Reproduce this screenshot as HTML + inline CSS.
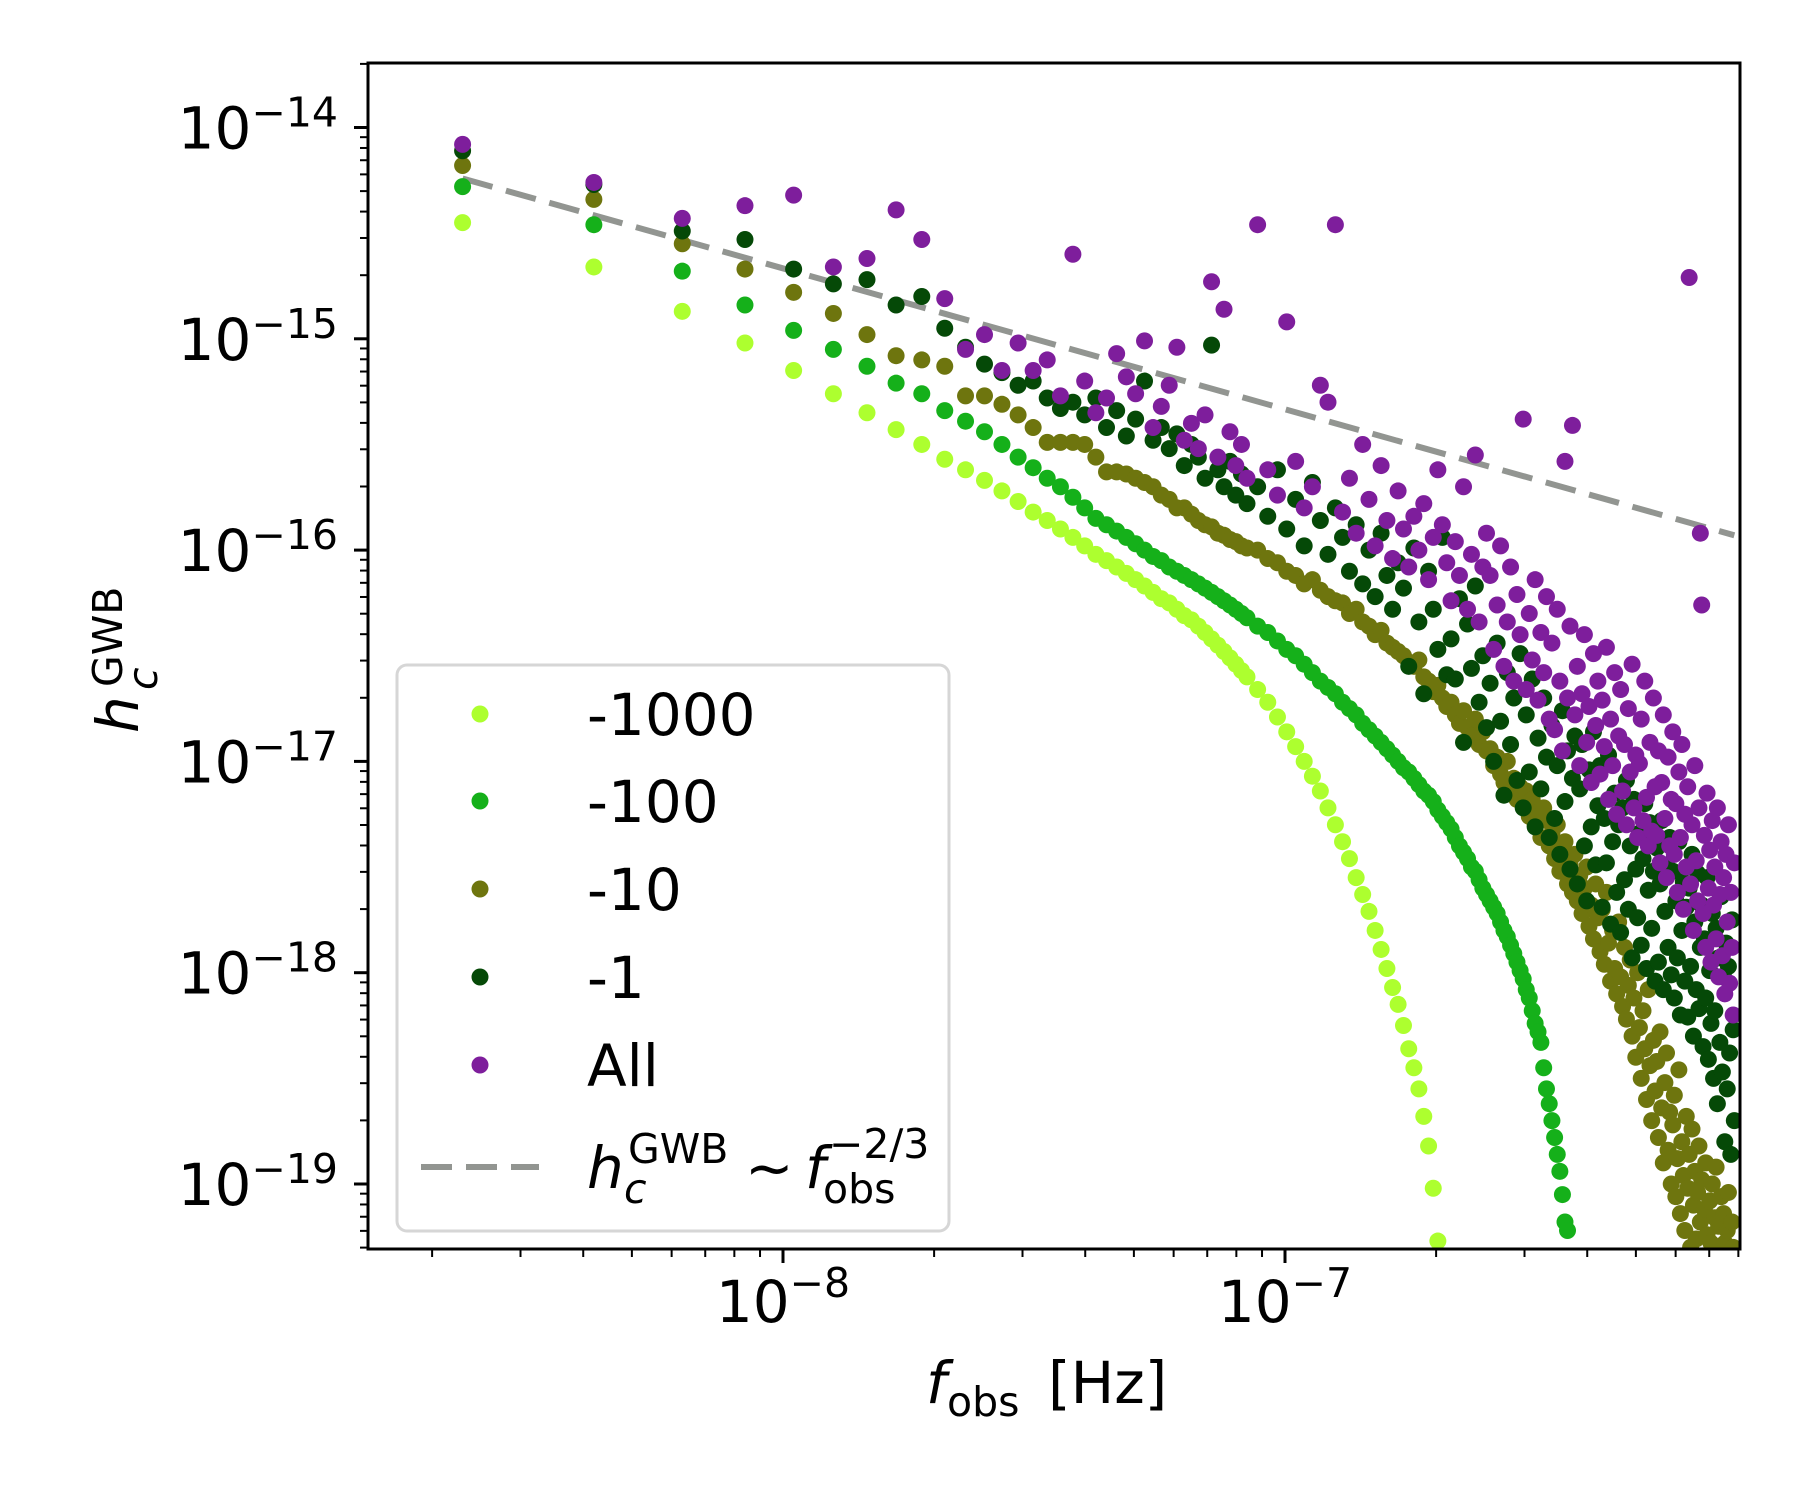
<!DOCTYPE html>
<html><head><meta charset="utf-8"><style>
html,body{margin:0;padding:0;background:#fff}
svg{display:block}
text{font-family:"DejaVu Sans","Liberation Sans",sans-serif;fill:#000}
</style></head><body>
<svg id="chart" width="1800" height="1500" viewBox="0 0 1800 1500" xmlns="http://www.w3.org/2000/svg">
<defs><clipPath id="plotclip"><rect x="368" y="63" width="1372" height="1186"/></clipPath></defs>
<rect x="0" y="0" width="1800" height="1500" fill="#fff"/>
<g id="marks" clip-path="url(#plotclip)"></g>
<g id="axes"></g>
<rect x="368" y="63" width="1372" height="1186" fill="none" stroke="#000" stroke-width="3"/>
<text x="0" y="0" font-size="58" transform="translate(138,0) rotate(-90)"><tspan x="-733" y="0" font-style="italic">h</tspan><tspan x="-690" y="19" font-size="41" font-style="italic">c</tspan><tspan x="-687" y="-16" font-size="41">GWB</tspan></text>
<text font-size="58"><tspan x="926" y="1403" font-style="italic">f</tspan><tspan x="947" y="1416" font-size="41">obs</tspan><tspan x="1048" y="1403">[Hz]</tspan></text>
<g>
<rect x="397" y="665" width="552" height="566" rx="10" fill="#fff" fill-opacity="0.8" stroke="#d6d6d6" stroke-width="3"/>
<g><circle cx="480" cy="714" r="8.5" fill="#adff2f"/><text x="587" y="735" font-size="58">-1000</text></g>
<g><circle cx="480" cy="801" r="8.5" fill="#15b01a"/><text x="587" y="822" font-size="58">-100</text></g>
<g><circle cx="480" cy="889" r="8.5" fill="#6e750e"/><text x="587" y="910" font-size="58">-10</text></g>
<g><circle cx="480" cy="977" r="8.5" fill="#054907"/><text x="587" y="998" font-size="58">-1</text></g>
<g><circle cx="480" cy="1065" r="8.5" fill="#7e1e9c"/><text x="587" y="1086" font-size="58">All</text></g>
<g><line x1="421" y1="1167" x2="539" y2="1167" stroke="#929591" stroke-width="6" stroke-dasharray="31 14"/>
<text font-size="58"><tspan x="587" y="1188" font-style="italic">h</tspan><tspan x="624" y="1203" font-size="41" font-style="italic">c</tspan><tspan x="628" y="1163" font-size="41">GWB</tspan><tspan x="745" y="1188">~</tspan><tspan x="805" y="1188" font-style="italic">f</tspan><tspan x="823" y="1203" font-size="41">obs</tspan><tspan x="829" y="1158" font-size="41">−2/3</tspan></text></g>
</g>
</svg>
<script>
// frequencies in nHz
const freqs = [2.3,4.2,6.3,8.4,10.5,12.6,14.7,16.8,18.9,21,23.1,25.2,27.3,29.4,31.5,33.6,35.7,37.8,39.9,42,44.1,46.2,48.3,50.4,52.5,54.6,56.7,58.8,60.9,63,65.1,67.2,69.3,71.4,73.5,75.6,77.7,79.8,81.9,84,
88.2,92.4,96.6,100.8,105,109.2,113.4,117.6,121.8,126,
130.2,134.4,138.6,142.8,147,151.2,155.4,159.6,163.8,168,
172.2,176.4,180.6,184.8,189,193.2,197.4,201.6,205.8,210,
214.2,218.4,222.6,226.8,231,235.2,239.4,243.6,247.8,252,
256.2,260.4,264.6,268.8,273,277.2,281.4,285.6,289.8,294,
298.2,302.4,306.6,310.8,315,319.2,323.4,327.6,331.8,336,
340.2,344.4,348.6,352.8,357,361.2,365.4,369.6,373.8,378,
382.2,386.4,390.6,394.8,399,403.2,407.4,411.6,415.8,420,
424.2,428.4,432.6,436.8,441,445.2,449.4,453.6,457.8,462,
466.2,470.4,474.6,478.8,483,487.2,491.4,495.6,499.8,504,
508.2,512.4,516.6,520.8,525,529.2,533.4,537.6,541.8,546,
550.2,554.4,558.6,562.8,567,571.2,575.4,579.6,583.8,588,
592.2,596.4,600.6,604.8,609,613.2,617.4,621.6,625.8,630,
634.2,638.4,642.6,646.8,651,655.2,659.4,663.6,667.8,672,
676.2,680.4,684.6,688.8,693,697.2,701.4,705.6,709.8,714,
718.2,722.4,726.6,730.8,735,739.2,743.4,747.6,751.8,756,
760.2,764.4,768.6,772.8,777,781.2,785.4];
// log10(h_c) per frequency
const hc1000 = [-14.45,-14.66,-14.87,-15.02,-15.15,-15.26,-15.35,-15.43,-15.50,-15.57,-15.62,-15.67,-15.72,-15.77,-15.82,-15.86,-15.90,-15.94,-15.98,-16.02,-16.05,-16.08,-16.11,-16.14,-16.17,-16.20,-16.23,-16.25,-16.28,-16.31,-16.33,-16.36,-16.39,-16.42,-16.45,-16.48,-16.51,-16.54,-16.57,-16.60,
-16.66,-16.72,-16.79,-16.86,-16.93,-17.00,-17.07,-17.14,-17.22,-17.30,-17.38,-17.46,-17.55,-17.63,-17.71,-17.80,-17.89,-17.98,-18.07,-18.15,-18.25,-18.36,-18.45,-18.55,-18.68,-18.82,-19.02,-19.27];
const hc100 = [-14.28,-14.46,-14.68,-14.84,-14.96,-15.05,-15.13,-15.21,-15.26,-15.34,-15.39,-15.44,-15.50,-15.56,-15.61,-15.66,-15.70,-15.75,-15.80,-15.85,-15.88,-15.91,-15.94,-15.97,-16.00,-16.03,-16.05,-16.08,-16.10,-16.12,-16.14,-16.16,-16.18,-16.20,-16.22,-16.24,-16.26,-16.28,-16.30,-16.32,
-16.36,-16.39,-16.43,-16.47,-16.50,-16.54,-16.58,-16.62,-16.65,-16.68,-16.72,-16.75,-16.78,-16.82,-16.85,-16.88,-16.91,-16.94,-16.97,-17.00,-17.03,-17.05,-17.08,-17.11,-17.14,-17.16,-17.19,-17.23,-17.26,-17.29,
-17.32,-17.36,-17.40,-17.43,-17.46,-17.50,-17.52,-17.56,-17.60,-17.63,-17.66,-17.69,-17.72,-17.76,-17.80,-17.83,-17.87,-17.91,-17.95,-17.99,-18.03,-18.08,-18.12,-18.18,-18.24,-18.28,-18.33,-18.45,-18.55,-18.62,
-18.70,-18.78,-18.86,-18.94,-19.05,-19.18,-19.22];
const hc10 = [-14.18,-14.34,-14.55,-14.67,-14.78,-14.88,-14.98,-15.08,-15.10,-15.13,-15.27,-15.27,-15.31,-15.36,-15.42,-15.49,-15.49,-15.49,-15.50,-15.56,-15.63,-15.63,-15.64,-15.66,-15.68,-15.70,-15.74,-15.76,-15.80,-15.80,-15.83,-15.86,-15.88,-15.89,-15.92,-15.93,-15.95,-15.96,-15.98,-15.99,
-16.00,-16.04,-16.06,-16.10,-16.12,-16.16,-16.14,-16.19,-16.22,-16.24,
-16.25,-16.30,-16.28,-16.34,-16.36,-16.40,-16.38,-16.44,-16.46,-16.48,
-16.50,-16.53,-16.55,-16.52,-16.60,-16.62,-16.67,-16.64,-16.70,-16.74,
-16.72,-16.78,-16.82,-16.76,-16.84,-16.88,-16.80,-16.92,-16.86,-16.95,
-16.94,-17.02,-16.98,-17.06,-17.10,-17.00,-17.14,-17.08,-17.18,-17.12,
-17.20,-17.14,-17.26,-17.18,-17.30,-17.24,-17.36,-17.22,-17.28,-17.40,
-17.34,-17.46,-17.30,-17.52,-17.42,-17.38,-17.58,-17.48,-17.62,-17.44,
-17.66,-17.54,-17.72,-17.60,-17.50,-17.78,-17.68,-17.84,-17.58,-17.74,
-17.90,-17.70,-17.96,-17.62,-17.86,-18.04,-17.80,-17.98,-18.10,-17.76,
-18.02,-18.16,-17.88,-18.22,-18.06,-17.94,-18.30,-18.12,-18.40,-18.00,
-18.26,-18.50,-18.18,-18.36,-18.60,-18.08,-18.44,-18.70,-18.32,-18.56,
-18.42,-18.78,-18.28,-18.64,-18.90,-18.52,-18.38,-18.84,-18.66,-19.00,
-18.72,-18.58,-19.06,-18.88,-18.46,-19.14,-18.80,-18.96,-19.22,-18.68,
-19.02,-18.86,-19.30,-18.74,-19.10,-18.94,-19.26,-19.04,-18.82,-19.18,
-18.98,-19.34,-19.12,-18.90,-19.24,-19.40,-19.08,-19.28,-19.00,-19.36,
-19.16,-18.92,-19.32,-19.20,-19.44,-19.06,-19.38,-19.14,-19.28,-19.46,
-19.22,-19.04,-19.34,-19.50,-19.18,-19.30,-19.42];
const hc1 = [-14.11,-14.27,-14.49,-14.53,-14.67,-14.74,-14.72,-14.84,-14.80,-14.95,-15.04,-15.12,-15.16,-15.22,-15.20,-15.28,-15.33,-15.30,-15.36,-15.28,-15.42,-15.34,-15.46,-15.38,-15.20,-15.48,-15.42,-15.52,-15.45,-15.60,-15.50,-15.56,-15.66,-15.03,-15.62,-15.70,-15.58,-15.74,-15.64,-15.78,
-15.70,-15.84,-15.62,-15.90,-15.76,-15.98,-15.68,-15.86,-16.02,-15.80,
-15.94,-16.10,-15.88,-16.16,-16.00,-16.22,-15.92,-16.12,-16.28,-16.06,
-16.18,-16.55,-15.99,-16.34,-16.68,-16.10,-16.28,-16.47,-15.94,-16.59,
-16.42,-16.61,-16.23,-16.91,-16.35,-16.56,-16.17,-16.72,-16.50,-16.84,
-16.63,-17.00,-16.44,-16.81,-17.16,-16.58,-16.92,-16.70,-17.09,-16.49,
-17.22,-16.78,-17.05,-16.61,-17.31,-16.89,-17.13,-16.70,-16.98,-17.36,
-16.83,-17.27,-17.02,-17.44,-16.76,-17.19,-16.95,-17.51,-17.08,-16.88,
-17.58,-17.13,-16.92,-17.40,-17.66,-17.04,-17.31,-16.86,-17.49,-17.21,
-17.02,-17.69,-17.27,-17.48,-16.97,-17.77,-17.38,-17.15,-17.62,-17.30,
-17.81,-17.22,-17.56,-17.09,-17.70,-17.40,-17.93,-17.18,-17.51,-17.74,
-17.34,-17.87,-17.46,-17.20,-17.98,-17.61,-17.29,-17.79,-17.52,-18.04,
-17.41,-17.95,-17.58,-17.28,-18.08,-17.71,-17.49,-17.88,-17.36,-18.01,
-17.52,-18.12,-17.66,-17.93,-17.38,-18.20,-17.80,-17.57,-18.04,-17.69,
-18.21,-17.60,-17.97,-17.44,-18.30,-17.76,-18.08,-17.53,-18.17,-17.88,
-17.68,-18.35,-17.84,-18.12,-17.55,-18.41,-17.99,-18.24,-17.72,-18.50,
-18.18,-17.79,-18.62,-17.93,-18.33,-17.64,-18.47,-18.02,-18.80,-17.86,
-18.55,-17.97,-18.38,-18.86,-17.75,-18.27,-18.70];
const hcAll = [-14.08,-14.26,-14.43,-14.37,-14.32,-14.66,-14.62,-14.39,-14.53,-14.81,-15.05,-14.98,-15.15,-15.02,-15.15,-15.10,-15.27,-14.60,-15.20,-15.35,-15.28,-15.07,-15.18,-15.26,-15.01,-15.42,-15.32,-15.22,-15.04,-15.48,-15.40,-15.52,-15.36,-14.73,-15.56,-14.86,-15.44,-15.60,-15.50,-15.66,
-14.46,-15.62,-15.74,-14.92,-15.58,-15.80,-15.70,-15.22,-15.30,-14.46,
-15.82,-15.66,-15.92,-15.50,-15.76,-15.98,-15.60,-15.86,-16.04,-15.72,
-15.90,-16.08,-15.84,-16.00,-15.78,-16.14,-15.94,-15.62,-15.88,-16.06,
-16.24,-15.96,-16.12,-15.70,-16.28,-16.02,-15.55,-16.34,-16.08,-15.92,
-16.12,-16.47,-16.26,-15.98,-16.55,-16.34,-16.08,-16.62,-16.21,-16.40,
-15.38,-16.66,-16.30,-16.52,-16.14,-16.71,-16.39,-16.58,-16.22,-16.80,
-16.44,-16.85,-16.28,-16.62,-16.95,-15.58,-16.70,-16.36,-15.41,-16.78,
-16.55,-17.02,-16.68,-16.40,-16.91,-16.74,-17.10,-16.49,-16.83,-16.62,
-17.06,-16.71,-16.93,-16.46,-17.18,-16.80,-17.02,-16.58,-17.25,-16.88,
-16.66,-17.14,-16.92,-17.30,-16.75,-17.05,-16.54,-17.22,-16.97,-17.36,
-17.01,-16.80,-17.28,-16.62,-17.17,-17.40,-16.91,-17.33,-16.70,-17.12,
-17.35,-16.95,-17.48,-17.10,-16.78,-17.27,-17.55,-16.98,-17.40,-17.18,
-16.86,-17.44,-17.20,-17.62,-17.05,-17.36,-16.92,-17.70,-17.25,-17.50,
-17.12,-14.71,-17.58,-17.30,-17.80,-17.02,-17.47,-17.66,-17.22,-15.92,
-16.26,-17.72,-17.35,-17.88,-17.15,-17.60,-17.42,-17.95,-17.28,-17.68,
-17.50,-17.84,-17.22,-18.02,-17.63,-17.38,-17.92,-17.55,-18.10,-17.44,
-17.76,-17.30,-18.05,-17.62,-17.88,-18.20,-17.48];
const seriesNames = ["-1000","-100","-10","-1","All"];
const seriesColors = ["#adff2f","#15b01a","#6e750e","#054907","#7e1e9c"];
const yTickExps = [-14,-15,-16,-17,-18,-19];
const xTickExps = [-8,-7];
const lineAmp = 1e-20;
const lineSlope = -2/3;

const NS = "http://www.w3.org/2000/svg";
const X0 = 783, XDEC = 502;
const Y0 = 127.5, YDEC = 211.3;
function xScale(fHz){ return X0 + XDEC*(Math.log10(fHz)+8); }
function yScale(logh){ return Y0 + YDEC*(-14-logh); }
function mk(tag, attrs, parent){
  const e = document.createElementNS(NS, tag);
  for (const k in attrs) e.setAttribute(k, attrs[k]);
  parent.appendChild(e); return e;
}
const marks = document.getElementById('marks');
const axes = document.getElementById('axes');

const fLo = freqs[0]*1e-9, fHi = freqs[freqs.length-1]*1e-9;
const pl = mk('line', {x1:xScale(fLo), y1:yScale(Math.log10(lineAmp*Math.pow(fLo,lineSlope))),
  x2:xScale(fHi), y2:yScale(Math.log10(lineAmp*Math.pow(fHi,lineSlope))),
  stroke:'#929591','stroke-width':6,'stroke-dasharray':'31 14'}, marks);



const allSeries = [hc1000, hc100, hc10, hc1, hcAll];
allSeries.forEach((vals, si) => {
  const g = mk('g', {fill: seriesColors[si]}, marks);
  
  
  vals.forEach((v, i) => {
    if (v === null || i >= freqs.length) return;
    const c = mk('circle', {cx: xScale(freqs[i]*1e-9), cy: yScale(v), r: 8.5}, g);
    
    
  });
});

const yTop = 63, yBot = 1249, xL = 368, xR = 1740;
for (let k = -20; k <= -13; k++) {
  for (let m = 1; m <= 9; m++) {
    const yy = yScale(k + Math.log10(m));
    if (yy < yTop - 0.5 || yy > yBot + 0.5) continue;
    const major = m === 1;
    const t = mk('line', {x1: xL, x2: xL - (major ? 14 : 8), y1: yy, y2: yy, stroke: '#000', 'stroke-width': major ? 3 : 2}, axes);
    
    
  }
}
yTickExps.forEach(k => {
  const yy = yScale(k);
  const t = mk('text', {x: 338, y: yy + 21, 'font-size': 58, 'text-anchor': 'end'}, axes);
  
  
  const a = mk('tspan', {}, t); a.textContent = '10';
  const b = mk('tspan', {'font-size': 41, dy: -22}, t); b.textContent = '\u2212' + Math.abs(k);
});
for (let k = -10; k <= -6; k++) {
  for (let m = 1; m <= 9; m++) {
    const xx = xScale(m * Math.pow(10, k));
    if (xx < xL - 0.5 || xx > xR + 0.5) continue;
    const major = m === 1;
    const t = mk('line', {x1: xx, x2: xx, y1: yBot, y2: yBot + (major ? 14 : 8), stroke: '#000', 'stroke-width': major ? 3 : 2}, axes);
    
    
  }
}
xTickExps.forEach(k => {
  const xx = xScale(Math.pow(10, k));
  const t = mk('text', {x: xx, y: 1322, 'font-size': 58, 'text-anchor': 'middle'}, axes);
  
  
  const a = mk('tspan', {}, t); a.textContent = '10';
  const b = mk('tspan', {'font-size': 41, dy: -25}, t); b.textContent = '\u2212' + Math.abs(k);
});
</script>
</body></html>
